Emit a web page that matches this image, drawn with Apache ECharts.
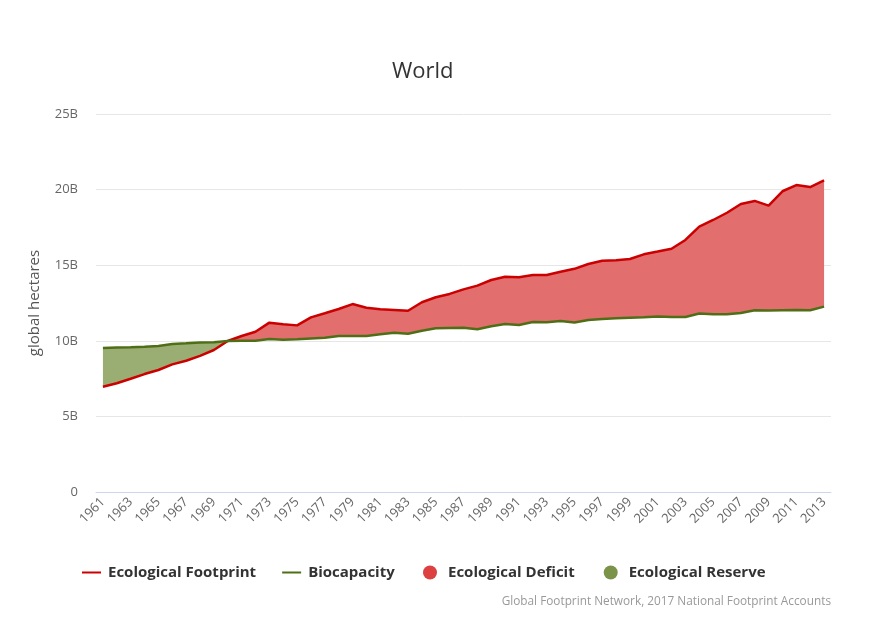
<!DOCTYPE html>
<html>
<head>
<meta charset="utf-8">
<script src="https://cdn.jsdelivr.net/npm/echarts@6/dist/echarts.min.js"></script>
<style>
html,body{margin:0;padding:0;background:#fff;}
#chart{width:876px;height:643px;}
</style>
</head>
<body>
<div id="chart"></div>
<script>
var years = [];
for (var y = 1961; y <= 2013; y++) years.push(String(y));

// Values in billions of global hectares
var footprint = [6.96,7.19,7.49,7.80,8.07,8.44,8.68,9.00,9.39,9.99,
  10.32,10.60,11.20,11.09,11.02,11.55,11.82,12.10,12.43,12.19,
  12.08,12.04,11.99,12.55,12.88,13.10,13.40,13.65,14.02,14.24,
  14.20,14.35,14.35,14.57,14.76,15.08,15.30,15.32,15.41,15.72,
  15.90,16.09,16.67,17.55,17.99,18.47,19.05,19.25,18.94,19.89,
  20.30,20.17,20.61];
var biocapacity = [9.52,9.55,9.57,9.61,9.66,9.79,9.83,9.88,9.90,9.99,
  10.01,10.01,10.12,10.07,10.10,10.16,10.20,10.32,10.32,10.32,
  10.43,10.54,10.47,10.67,10.83,10.85,10.87,10.76,10.96,11.11,
  11.04,11.24,11.22,11.31,11.21,11.38,11.44,11.49,11.53,11.55,
  11.60,11.57,11.57,11.80,11.75,11.75,11.84,12.02,12.00,12.02,
  12.04,12.02,12.26];
var yTicks = [0,5,10,15,20,25];

var B = 1e9;
var fp = footprint.map(function(v){return v*B;});
var bc = biocapacity.map(function(v){return v*B;});
var lower = fp.map(function(v,i){return Math.min(v,bc[i]);});
var deficit = fp.map(function(v,i){return Math.max(v-bc[i],0);});
var reserve = bc.map(function(v,i){return Math.max(v-fp[i],0);});

var chart = echarts.init(document.getElementById('chart'));
var font = '"Open Sans", "DejaVu Sans", sans-serif';
chart.setOption({
  animation:false,
  textStyle:{fontFamily:font},
  title:{text:'World',left:392,top:61,padding:0,textStyle:{fontSize:22,fontWeight:'normal',color:'#333',fontFamily:font}},
  grid:{left:96,right:45,top:114,bottom:151,containLabel:false},
  legend:[{
    data:['Ecological Footprint','Biocapacity'],
    left:82,top:565,padding:0,icon:'rect',itemWidth:19,itemHeight:2,itemGap:26,
    textStyle:{fontSize:15,fontWeight:'bold',color:'#333',fontFamily:font,padding:[0,0,0,2]},
    selectedMode:false
  },{
    data:[{name:'Ecological Deficit',icon:'circle'},{name:'Ecological Reserve',icon:'circle'}],
    left:423,top:565,padding:0,itemWidth:22,itemHeight:14,itemGap:29,
    textStyle:{fontSize:15,fontWeight:'bold',color:'#333',fontFamily:font,padding:[0,0,0,2]},
    selectedMode:false
  }],
  graphic:[{type:'text',right:45,top:596,style:{text:'Global Footprint Network, 2017 National Footprint Accounts',fill:'#999',fontSize:11.8,fontFamily:font}}],
  xAxis:{
    type:'category',data:years,boundaryGap:true,
    axisLine:{lineStyle:{color:'#ccd6eb'}},
    axisTick:{interval:1,alignWithLabel:true,length:10,lineStyle:{color:'#ccd6eb'}},
    axisLabel:{interval:1,rotate:45,color:'#666',fontSize:13,margin:8,fontFamily:font}
  },
  yAxis:{
    type:'value',min:0,max:25*B,interval:5*B,
    name:'global hectares',nameLocation:'middle',nameGap:54,nameRotate:90,
    nameTextStyle:{fontSize:15,color:'#555',fontFamily:font},
    axisLine:{show:false},axisTick:{show:false},
    axisLabel:{color:'#666',fontSize:13,margin:18,fontFamily:font,formatter:function(v){return v===0?'0':(v/B)+'B';}},
    splitLine:{lineStyle:{color:'#e6e6e6'}}
  },
  series:[
    {type:'line',stack:'d',data:lower,symbol:'none',lineStyle:{width:0},silent:true},
    {name:'Ecological Deficit',type:'line',stack:'d',data:deficit,symbol:'none',lineStyle:{width:0},
      itemStyle:{color:'#dc4040'},areaStyle:{color:'#e26e6e',opacity:1}},
    {type:'line',stack:'r',data:lower,symbol:'none',lineStyle:{width:0},silent:true},
    {name:'Ecological Reserve',type:'line',stack:'r',data:reserve,symbol:'none',lineStyle:{width:0},
      itemStyle:{color:'#7b9249'},areaStyle:{color:'#9aad72',opacity:1}},
    {name:'Ecological Footprint',type:'line',data:fp,symbol:'none',itemStyle:{color:'#cc0000'},lineStyle:{color:'#cc0000',width:2.5}},
    {name:'Biocapacity',type:'line',data:bc,symbol:'none',itemStyle:{color:'#4f6f17'},lineStyle:{color:'#4f6f17',width:2.5}}
  ]
});
</script>
</body>
</html>
